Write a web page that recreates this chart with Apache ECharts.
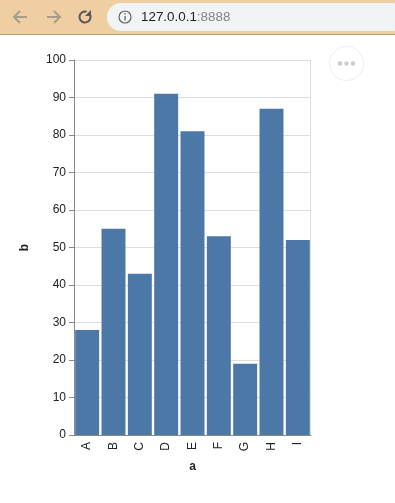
<!DOCTYPE html>
<html><head><meta charset="utf-8">
<style>html,body{margin:0;padding:0;background:#fff}#c{width:395px;height:503px}</style>
<script src="https://cdn.jsdelivr.net/npm/echarts@6/dist/echarts.min.js"></script>
</head><body><div id="c"></div>
<script>
const categories = ['A','B','C','D','E','F','G','H','I'];
const values = [28,55,43,91,81,53,19,87,52];
const FONT = '"Liberation Sans", Arial, sans-serif';
const chart = echarts.init(document.getElementById('c'), null, {renderer:'canvas'});
const arrow = (pts, color) => ({type:'polyline', silent:true, shape:{points:pts}, style:{stroke:color, lineWidth:2, fill:null}});
chart.setOption({
  animation:false,
  backgroundColor:'#fff',
  grid:{left:74, right:84, top:60, bottom:68, show:false},
  xAxis:{
    type:'category', data:categories, boundaryGap:true,
    name:'a', nameLocation:'middle', nameGap:26,
    nameTextStyle:{fontFamily:FONT, fontSize:12, fontWeight:'bold', color:'#222'},
    axisLine:{lineStyle:{color:'#888',width:1}},
    axisTick:{alignWithLabel:true, length:5, lineStyle:{color:'#888'}},
    axisLabel:{rotate:90, fontFamily:FONT, fontSize:12, color:'#222', margin:7},
    splitLine:{show:false}
  },
  yAxis:{
    type:'value', min:0, max:100, interval:10,
    name:'b', nameLocation:'middle', nameGap:43, nameRotate:90,
    nameTextStyle:{fontFamily:FONT, fontSize:12, fontWeight:'bold', color:'#222'},
    axisLine:{show:true, lineStyle:{color:'#888',width:1}},
    axisTick:{show:true, length:5, lineStyle:{color:'#888'}},
    axisLabel:{fontFamily:FONT, fontSize:12, color:'#222', margin:8},
    splitLine:{show:true, lineStyle:{color:'#ddd',width:1}}
  },
  series:[{
    type:'bar', data:values, barWidth:'91%',
    itemStyle:{color:'#4c78a8'}, z:3
  }],
  graphic:[
    {type:'rect', silent:true, shape:{x:0,y:0,width:395,height:35}, style:{fill:'#efcfa2'}},
    {type:'rect', silent:true, shape:{x:0,y:34,width:395,height:1}, style:{fill:'#b89f7c'}},
    {type:'rect', silent:true, shape:{x:107,y:3,width:300,height:28,r:14}, style:{fill:'#f1f3f4'}},
    arrow([[15,17],[27,17]],'#a89c8a'), arrow([[20,11],[14,17],[20,23]],'#a89c8a'),
    arrow([[47,17],[59,17]],'#a89c8a'), arrow([[54,11],[60,17],[54,23]],'#a89c8a'),
    {type:'arc', silent:true, shape:{cx:85,cy:17,r:5.5,startAngle:-0.6,endAngle:5.0}, style:{stroke:'#55565a',lineWidth:2,fill:null}},
    {type:'polygon', silent:true, shape:{points:[[91,10],[91,16],[85,16]]}, style:{fill:'#55565a'}},
    {type:'circle', silent:true, shape:{cx:125,cy:17,r:6}, style:{stroke:'#5f6368',lineWidth:1.2,fill:null}},
    {type:'rect', silent:true, shape:{x:124.4,y:16,width:1.3,height:4.5}, style:{fill:'#5f6368'}},
    {type:'rect', silent:true, shape:{x:124.4,y:13,width:1.3,height:1.5}, style:{fill:'#5f6368'}},
    {type:'text', silent:true, x:141, y:17, style:{text:'{h|127.0.0.1}{p|:8888}', verticalAlign:'middle',
      rich:{h:{fontFamily:FONT, fontSize:13.4, fill:'#202124', color:'#202124'}, p:{fontFamily:FONT, fontSize:13.4, fill:'#80868b', color:'#80868b'}}}},
    {type:'circle', silent:true, shape:{cx:346.5,cy:63.5,r:17}, style:{stroke:'#eee',lineWidth:1,fill:'#fff'}},
    {type:'circle', silent:true, shape:{cx:340,cy:63.5,r:2.2}, style:{fill:'#ccc'}},
    {type:'circle', silent:true, shape:{cx:346.5,cy:63.5,r:2.2}, style:{fill:'#ccc'}},
    {type:'circle', silent:true, shape:{cx:353,cy:63.5,r:2.2}, style:{fill:'#ccc'}},
    {type:'rect', silent:true, z:-1, shape:{x:74.5,y:60.5,width:236,height:375}, style:{fill:'none',stroke:'#ddd',lineWidth:1}}
  ]
});
</script></body></html>
